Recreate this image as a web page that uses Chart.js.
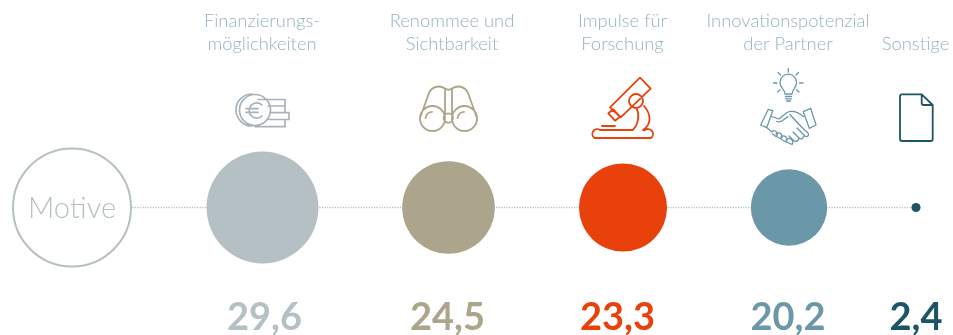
<!DOCTYPE html>
<html>
<head>
<meta charset="utf-8">
<style>html,body{margin:0;padding:0;background:#fff}canvas{display:block}</style>
<script src="https://cdn.jsdelivr.net/npm/chart.js@4"></script>
</head>
<body>
<canvas id="c" width="953" height="335"></canvas>
<script>
const categories = [["Finanzierungs-","möglichkeiten"],["Renommee und","Sichtbarkeit"],["Impulse für","Forschung"],["Innovationspotenzial","der Partner"],["Sonstige"]];
const values = [29.6, 24.5, 23.3, 20.2, 2.4];
const centerLabel = "Motive";

const bubbleX = [262.5, 448.5, 623, 789, 916];
const headX = [262, 452, 622.5, 788, 915.5];
const valueX = [264.5, 447.5, 617.5, 788, 916];
const colors = ["#b5c0c5","#aca48b","#e8410b","#6b98a9","#1b5566"];
const labelColor = "#93b3c0";
const PX_PER_UNIT = 1.89;
const MOTIVE_X = 72, LINE_START = 132;

const fmt = v => v.toFixed(1).replace(".", ",");

const icons = [
  {color:"#a7b3ba", w:1.7, d:"M270.5 110A15.5 15.5 0 1 1 239.5 110A15.5 15.5 0 1 1 270.5 110Z M252 94A16 16 0 0 0 252 126 M262 105A7.6 7.6 0 1 0 262 116 M246 108.7H258 M246 112.3H258 M258 99.5H285V106H268 M285 106V112.7 M270 112.7H289V119.5H269 M285 119.5V126.7H255"},
  {color:"#aca48b", w:1.8, d:"M445 118.5A12.5 12.5 0 1 1 420 118.5A12.5 12.5 0 1 1 445 118.5Z M477 118.5A12.5 12.5 0 1 1 452 118.5A12.5 12.5 0 1 1 477 118.5Z M453 118A4.7 4.7 0 1 1 443.6 118A4.7 4.7 0 1 1 453 118Z M420 118L429 93C431 88 438 84 445 88.5L445 113 M477 118L468 93C466 88 459 84 452 88.5L452 113 M445 88.5Q448.5 91 452 88.5 M425.500 118A7 7 0 0 1 432 111.800 M457.500 118A7 7 0 0 1 464 111.800"},
  {color:"#e8410b", w:1.8, d:"M640 77.7L650.700 88.700L620.700 117.300L610 107.300Z M608.300 113.300L613.300 109.300L620 116.700L615 120.700Z M643 101A7 7 0 1 1 629 101A7 7 0 1 1 643 101Z M644 106C652 115 651 125 643 130 M636.700 108C640 116 638 125 632.700 130 M602 126H615 M632.700 130H600A4.500 4.500 0 0 0 594.500 138H651A4.500 4.500 0 0 0 645 130H643"},
  {color:"#6b98a9", w:1.3, d:"M785 94C785 89 780 88 780 82.500A8.300 8.300 0 1 1 796.600 82.500C796.600 88 792 89 792 94Z M785.500 96.500H791.500 M785.500 98.800H791.500 M786.500 101H790.500 M788.300 72V68.500 M796 75L798.500 72.500 M799.500 83H803 M796.500 90L799 92 M780.500 75L778 72.500 M777 83H773.500 M780 90L777.500 92 M768.300 109.300L772.700 110.700L766.700 127.700L760.700 125Z M803.300 111.700L810.700 108.300L816 125L809.300 128.300Z M771.500 116.500L779 119L787 112.500C792 110 798 112 803.500 116.500 M788 116.500C783 120 781 123 776.500 121.500 M790 114.500C796 121 802 128 808 133C810 136 806 138 804 135L797 128 M804 135C804 138 801 140 799 138L793 132 M799 138C798 142 795 142 793 140L789 136 M766 127L772 132 M772 131.500A3 3 0 0 1 776 136.500L772.500 134 M776 134A3 3 0 0 1 781 139L776.500 136.500 M781 137A3 3 0 0 1 786 142L781.500 139.500 M786 140A3 3 0 0 1 792 144.500L786.500 142"},
  {color:"#1b5566", w:1.8, d:"M921.700 94.300H902A2 2 0 0 0 900 96.300V139A2 2 0 0 0 902 141H930.700A2 2 0 0 0 932.700 139V105L921.700 94.300V103A2 2 0 0 0 923.700 105H932.700"}
];

const decorations = {
  id: "decorations",
  afterDatasetsDraw(chart) {
    const ctx = chart.ctx;
    ctx.save();
    ctx.lineJoin = "round";
    ctx.lineCap = "round";
    icons.forEach(ic => {
      ctx.strokeStyle = ic.color;
      ctx.lineWidth = ic.w;
      ctx.stroke(new Path2D(ic.d));
    });
    const px = chart.scales.x.getPixelForValue(MOTIVE_X);
    const py = chart.scales.y.getPixelForValue(0);
    ctx.fillStyle = "#b5c0c5";
    ctx.font = "300 29px Lato";
    ctx.textAlign = "center";
    ctx.textBaseline = "middle";
    ctx.fillText(centerLabel, px, py + 1);
    ctx.restore();
  }
};

const anchoredAxis = (xs, height, position, labelFn, font, color, padding) => ({
  axis: "x", type: "linear", position, min: 0, max: 953,
  grid: {display: false}, border: {display: false},
  afterBuildTicks: s => { s.ticks = xs.map(value => ({value})); },
  afterFit: s => { s.height = height; s.paddingLeft = 0; s.paddingRight = 0; s.paddingTop = 0; s.paddingBottom = 0; },
  ticks: {autoSkip: false, maxRotation: 0, minRotation: 0, padding, font, color,
    callback: (v, i) => labelFn(i)}
});

new Chart(document.getElementById("c"), {
  type: "bubble",
  data: {
    datasets: [
      {
        data: bubbleX.map((x, i) => ({x, y: 0, r: values[i] * PX_PER_UNIT})),
        backgroundColor: colors, borderWidth: 0, hoverBorderWidth: 0, order: 1, clip: false
      },
      {
        data: [{x: MOTIVE_X, y: 0, r: 59}],
        backgroundColor: "#ffffff", borderColor: "#b5c0c5", borderWidth: 2, order: 1, clip: false
      },
      {
        type: "line",
        data: [{x: LINE_START, y: 0}, {x: bubbleX[4], y: 0}],
        borderColor: "#b9c4c9", borderWidth: 1.3, borderDash: [1.3, 1.3],
        pointRadius: 0, order: 2, clip: false
      }
    ]
  },
  options: {
    responsive: false,
    animation: false,
    layout: {padding: 0, autoPadding: false},
    plugins: {legend: {display: false}, tooltip: {enabled: false}},
    scales: {
      x: {type: "linear", min: 0, max: 953, display: false},
      y: {type: "linear", min: -1, max: 1, display: false},
      xTop: anchoredAxis(headX, 122, "top", i => categories[i],
        {family: "Lato", weight: 300, size: 18.4, lineHeight: 1.25}, labelColor, 58),
      xBottom: anchoredAxis(valueX, 42, "bottom", i => fmt(values[i]),
        {family: "Lato", weight: 700, size: 38, lineHeight: 1}, c => colors[c.index], -2)
    }
  },
  plugins: [decorations]
});
</script>
</body>
</html>
